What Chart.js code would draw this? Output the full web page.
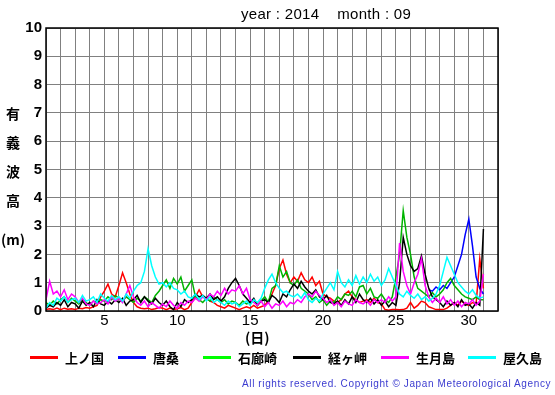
<!DOCTYPE html>
<html>
<head>
<meta charset="utf-8">
<script src="https://cdn.jsdelivr.net/npm/chart.js@4"></script>
<style>
  body { margin: 0; background: #fff; }
  #wrap { position: relative; width: 555px; height: 395px; overflow: hidden; }
  #chart { position: absolute; left: 0; top: 0; }
  .txt { position: absolute; white-space: nowrap; color: #000; }
  #title { left: 241px; top: 5px; font: 15px "Liberation Sans", Arial, sans-serif; letter-spacing: 0.3px; }
  .ych { left: 5px; width: 16px; text-align: center; font: bold 14px "Noto Sans CJK JP", sans-serif; }
  #xtitle { left: 245px; top: 327px; font: bold 14px "Noto Sans CJK JP", sans-serif; }
  .lline { position: absolute; height: 3px; width: 28px; top: 356px; }
  .ltxt { top: 348px; font: bold 13px "Noto Sans CJK JP", sans-serif; }
  #copy { left: 242px; top: 378px; font: 10px "Liberation Sans", Arial, sans-serif; color: #3b3bd0; letter-spacing: 0.62px; }
</style>
</head>
<body>
<div id="wrap">
  <canvas id="chart" width="555" height="395"></canvas>
  <div class="txt" id="title">year : 2014&nbsp;&nbsp;&nbsp;&nbsp;month : 09</div>
  <div class="txt ych" style="top:103px">有</div>
  <div class="txt ych" style="top:132px">義</div>
  <div class="txt ych" style="top:161px">波</div>
  <div class="txt ych" style="top:190px">高</div>
  <div class="txt ych" style="top:229px;left:1px;width:24px">(m)</div>
  <div class="txt" id="xtitle">(日)</div>
  <div id="legend"></div>
  <div class="txt" id="copy">All rights reserved. Copyright © Japan Meteorological Agency</div>
</div>
<script>
// 6-hourly significant wave height (m), day 1 00h .. day 31 00h
const stepDays = 0.25;
const stations = ['上ノ国', '唐桑', '石廊崎', '経ヶ岬', '生月島', '屋久島'];
const lineColors = ['#ff0000', '#0000ff', '#00b400', '#000000', '#ff00ff', '#00ffff'];
const legendColors = ['#ff0000', '#0000ff', '#00ff00', '#000000', '#ff00ff', '#00ffff'];
const xTickLabels = [5, 10, 15, 20, 25, 30];
const yTickLabels = [0, 1, 2, 3, 4, 5, 6, 7, 8, 9, 10];

const kaminokuni = [
  0.05,0.08,0.05,0.1, 0.05,0.1,0.06,0.08, 0.05,0.1,0.08,0.12, 0.1,0.15,0.2,0.5,
  0.7,0.95,0.6,0.5, 0.9,1.35,1.0,0.6, 0.3,0.15,0.1,0.08, 0.1,0.05,0.08,0.12,
  0.1,0.05,0.1,0.05, 0.08,0.12,0.05,0.1, 0.3,0.5,0.75,0.5, 0.45,0.35,0.3,0.2,
  0.15,0.1,0.2,0.15, 0.1,0.05,0.1,0.15, 0.1,0.2,0.1,0.15, 0.2,0.35,0.6,0.9,
  1.5,1.8,1.3,1.0, 1.2,1.05,1.35,1.1, 1.0,1.2,0.9,1.05, 0.6,0.5,0.45,0.35,
  0.3,0.4,0.6,0.7, 0.5,0.4,0.3,0.35, 0.4,0.3,0.45,0.3, 0.25,0.05,0.03,0.05,
  0.05,0.04,0.05,0.1, 0.3,0.1,0.2,0.35, 0.3,0.15,0.1,0.05, 0.05,0.05,0.1,0.2,
  0.3,0.2,0.35,0.25, 0.2,0.3,0.25,1.85, 0.8
];
// 唐桑 only reports from day 27.25
const karakuwaFrom = 27.25;
const karakuwa = [
  0.75,0.7,0.85, 0.75,0.9,0.8,1.0, 1.2,1.6,2.0,2.7, 3.25,2.3,1.2,0.8, 0.6
];
const irozaki = [
  0.3,0.2,0.35,0.25, 0.4,0.5,0.3,0.45, 0.35,0.25,0.4,0.3, 0.2,0.35,0.3,0.4,
  0.35,0.5,0.4,0.55, 0.45,0.35,0.5,0.4, 0.3,0.45,0.35,0.5, 0.4,0.3,0.55,0.7,
  0.9,1.1,0.8,1.15, 0.95,1.2,0.7,0.9, 1.1,0.5,0.4,0.3, 0.45,0.35,0.5,0.4,
  0.3,0.4,0.25,0.35, 0.3,0.2,0.35,0.25, 0.3,0.4,0.2,0.35, 0.5,0.3,0.8,0.9,
  1.6,1.2,1.4,1.0, 0.9,1.1,0.8,0.7, 0.6,0.4,0.5,0.3, 0.4,0.2,0.35,0.3,
  0.5,0.4,0.6,0.55, 0.7,0.5,0.85,0.9, 0.6,0.8,0.5,0.45, 0.6,0.4,0.3,0.5,
  1.2,2.0,3.55,2.6, 2.0,1.2,0.8,0.7, 0.6,0.5,0.65,0.5, 0.6,0.75,1.0,1.15,
  0.9,0.75,0.6,0.5, 0.45,0.4,0.5,0.4, 0.4
];
const kyogamisaki = [
  0.1,0.2,0.15,0.3, 0.2,0.4,0.15,0.3, 0.25,0.1,0.35,0.2, 0.3,0.15,0.4,0.25,
  0.2,0.35,0.25,0.4, 0.3,0.45,0.2,0.35, 0.4,0.55,0.3,0.5, 0.35,0.25,0.45,0.3,
  0.2,0.35,0.15,0.05, 0.3,0.15,0.4,0.3, 0.4,0.6,0.5,0.55, 0.45,0.6,0.4,0.5,
  0.35,0.5,0.8,1.0, 1.15,0.9,0.6,0.45, 0.3,0.45,0.2,0.35, 0.4,0.3,0.55,0.45,
  0.3,0.6,0.5,0.75, 0.95,0.8,1.05,0.85, 0.7,0.6,0.75,0.5, 0.4,0.55,0.3,0.25,
  0.35,0.2,0.4,0.25, 0.5,0.3,0.6,0.4, 0.3,0.45,0.25,0.4, 0.2,0.35,0.15,0.3,
  0.2,1.0,2.6,2.0, 1.6,1.4,1.5,1.95, 1.3,0.8,0.5,0.4, 0.3,0.15,0.35,0.2,
  0.3,0.15,0.4,0.2, 0.25,0.1,0.3,0.2, 2.9
];
const ikitsukishima = [
  0.4,1.05,0.6,0.7, 0.5,0.75,0.4,0.6, 0.5,0.3,0.45,0.25, 0.2,0.35,0.25,0.3,
  0.4,0.25,0.5,0.35, 0.45,0.3,0.6,0.9, 0.5,0.3,0.2,0.35, 0.15,0.3,0.2,0.1,
  0.25,0.15,0.35,0.2, 0.1,0.3,0.2,0.35, 0.3,0.45,0.35,0.5, 0.4,0.6,0.5,0.7,
  0.55,0.8,0.6,0.75, 0.7,0.9,0.6,0.8, 0.4,0.3,0.2,0.35, 0.15,0.3,0.1,0.25,
  0.2,0.35,0.15,0.3, 0.25,0.4,0.3,0.5, 0.6,0.5,0.7,0.55, 0.45,0.3,0.4,0.2,
  0.3,0.15,0.35,0.25, 0.2,0.4,0.3,0.25, 0.35,0.2,0.4,0.3, 0.4,0.3,0.5,0.35,
  0.5,2.4,1.4,0.9, 0.6,1.0,1.3,1.85, 0.9,0.5,0.3,0.45, 0.3,0.5,0.25,0.4,
  0.2,0.35,0.15,0.3, 0.25,0.4,0.2,0.35, 1.3
];
const yakushima = [
  0.1,0.3,0.2,0.45, 0.35,0.5,0.3,0.4, 0.45,0.3,0.55,0.35, 0.4,0.5,0.3,0.6,
  0.45,0.35,0.55,0.4, 0.5,0.35,0.6,0.45, 0.7,0.9,1.0,1.4, 2.2,1.6,1.2,0.95,
  1.0,0.85,1.0,0.8, 0.75,0.6,0.7,0.5, 0.45,0.6,0.4,0.55, 0.35,0.5,0.3,0.4,
  0.3,0.2,0.35,0.25, 0.3,0.15,0.25,0.35, 0.2,0.4,0.3,0.45, 0.8,1.1,1.3,1.0,
  0.8,0.65,0.7,0.55, 0.5,0.6,0.45,0.65, 0.4,0.3,0.45,0.35, 0.6,0.8,1.0,0.75,
  1.4,1.0,0.85,1.1, 0.9,1.25,0.95,1.2, 1.0,1.3,1.05,1.2, 0.9,1.1,1.5,1.2,
  0.9,0.6,0.5,0.7, 0.55,0.45,0.6,0.4, 0.5,0.35,0.45,0.6, 0.9,1.4,1.9,1.6,
  1.3,1.0,0.85,0.7, 0.6,0.75,0.55,0.45, 0.5
];

const series = [kaminokuni, karakuwa, irozaki, kyogamisaki, ikitsukishima, yakushima];
const startDay = [1, karakuwaFrom, 1, 1, 1, 1];

function toPoints(values, from) {
    return values.map((v, i) => ({ x: from + i * stepDays, y: v }));
}

// legend in html, evenly spaced
const legendX = [30, 118, 203, 293, 381, 468];
const legendDiv = document.getElementById('legend');
stations.forEach((name, i) => {
    const ln = document.createElement('div');
    ln.className = 'lline';
    ln.style.left = legendX[i] + 'px';
    ln.style.background = legendColors[i];
    legendDiv.appendChild(ln);
    const t = document.createElement('div');
    t.className = 'txt ltxt';
    t.style.left = (legendX[i] + 35) + 'px';
    t.textContent = name;
    legendDiv.appendChild(t);
});

const frame = {
    id: 'frame',
    afterDraw(chart) {
        const a = chart.chartArea;
        const ctx = chart.ctx;
        ctx.save();
        ctx.strokeStyle = '#000';
        ctx.lineWidth = 1.5;
        ctx.strokeRect(a.left, a.top, a.right - a.left, a.bottom - a.top);
        ctx.restore();
    }
};

new Chart(document.getElementById('chart'), {
    type: 'line',
    data: {
        datasets: series.map((vals, i) => ({
            label: stations[i],
            data: toPoints(vals, startDay[i]),
            borderColor: lineColors[i],
            borderWidth: 1.5,
            pointRadius: 0,
            tension: 0,
            fill: false,
            order: series.length - i
        }))
    },
    options: {
        responsive: false,
        animation: false,
        layout: { padding: { left: 0, top: 28, right: 57, bottom: 0 } },
        plugins: { legend: { display: false }, tooltip: { enabled: false } },
        scales: {
            x: {
                type: 'linear',
                min: 1,
                max: 32,
                afterFit: s => { s.height = 84; },
                afterBuildTicks: s => {
                    s.ticks = [];
                    for (let d = 1; d <= 32; d++) s.ticks.push({ value: d });
                },
                ticks: {
                    autoSkip: false,
                    maxRotation: 0,
                    padding: 1,
                    color: '#000',
                    font: { family: '"Liberation Sans", Arial, sans-serif', size: 15 },
                    callback: v => xTickLabels.includes(v) ? String(v) : ''
                },
                grid: { color: '#808080', lineWidth: 1, drawTicks: false },
                border: { display: false }
            },
            y: {
                min: 0,
                max: 10,
                afterFit: s => { s.width = 46; },
                afterBuildTicks: s => { s.ticks = yTickLabels.map(v => ({ value: v })); },
                ticks: {
                    padding: 4,
                    color: '#000',
                    font: { family: '"Liberation Sans", Arial, sans-serif', size: 15, weight: 'bold' }
                },
                grid: { color: '#808080', lineWidth: 1, drawTicks: false },
                border: { display: false }
            }
        }
    },
    plugins: [frame]
});
</script>
</body>
</html>
